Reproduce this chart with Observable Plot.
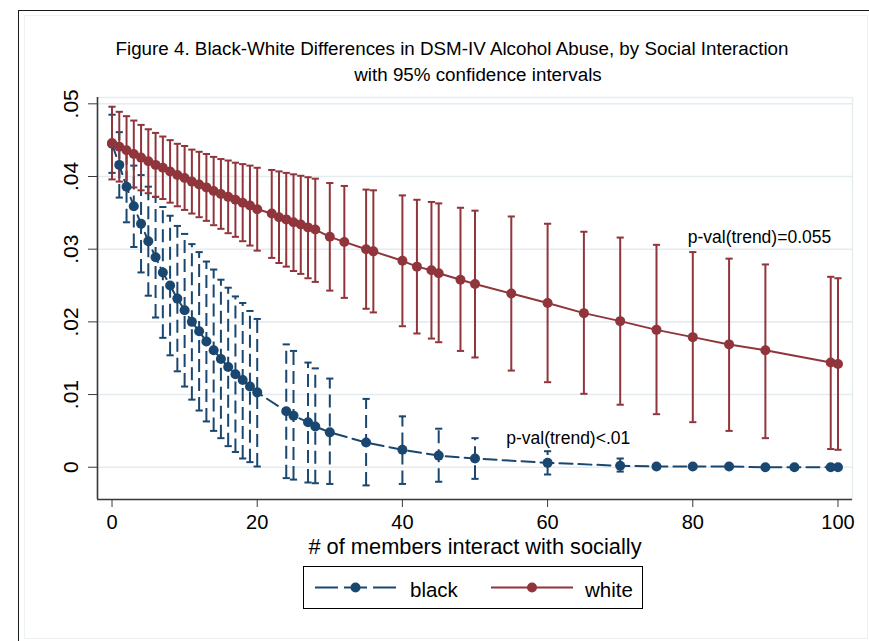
<!DOCTYPE html>
<html>
<head>
<meta charset="utf-8">
<script src="https://cdn.jsdelivr.net/npm/d3@7"></script>
<script src="https://cdn.jsdelivr.net/npm/@observablehq/plot@0.6"></script>
<style>
  body { margin: 0; background: #fff; font-family: "Liberation Sans", Arial, sans-serif; }
  #page { position: relative; width: 869px; height: 641px; overflow: hidden; background: #fff; }
  #outer { position: absolute; left: 18px; top: 10px; width: 860px; height: 640px;
           border-top: 1px solid #1a1a1a; border-left: 1px solid #1a1a1a; }
  #inner { position: absolute; left: 24px; top: 15px; width: 842px; height: 622px;
           border: 1px solid #edf2f5; }
  .title { position: absolute; white-space: nowrap; font-size: 18.8px; color: #000;
           transform: translateX(-50%); line-height: 22px; }
  #chart { position: absolute; left: 0; top: 60px; }
  #legend { position: absolute; left: 303px; top: 566px; }
</style>
</head>
<body>
<div id="page">
  <div id="outer"></div>
  <div id="inner"></div>
  <div id="t1" class="title"></div>
  <div id="t2" class="title"></div>
  <div id="chart"></div>
  <div id="legend"></div>
</div>
<script>
// Titles
const titleLine1 = "Figure 4. Black-White Differences in DSM-IV Alcohol Abuse, by Social Interaction";
const titleLine2 = "with 95% confidence intervals";
const xTitle = "# of members interact with socially";

// Axis ticks
const xTicks = [0, 20, 40, 60, 80, 100];
const yTicks = [0, 0.01, 0.02, 0.03, 0.04, 0.05];
const yTickLabels = ["0", ".01", ".02", ".03", ".04", ".05"];

// Black respondents: predicted prevalence and 95% CI
const blackX  = [0, 1, 2, 3, 4, 5, 6, 7, 8, 9, 10, 11, 12, 13, 14, 15, 16, 17, 18, 19, 20,
                 24, 25, 27, 28, 30, 35, 40, 45, 50, 60, 70, 75, 80, 85, 90, 94, 99, 100];
const blackY  = [0.0445, 0.0416, 0.0386, 0.0359, 0.0335, 0.0311, 0.0289, 0.0268, 0.0250, 0.0232, 0.0216,
                 0.0200, 0.0187, 0.0173, 0.0161, 0.0149, 0.0138, 0.0128, 0.0120, 0.0111, 0.0103,
                 0.0077, 0.0071, 0.0062, 0.0056, 0.0048, 0.0034, 0.0024, 0.0016, 0.0012, 0.0006,
                 0.0002, 0.0001, 0.0001, 0.0001, 0.0000, 0.0000, 0.0000, 0.0000];
const blackLo = [0.0405, 0.0371, 0.0337, 0.0303, 0.0268, 0.0236, 0.0206, 0.0178, 0.0154, 0.0132, 0.0111,
                 0.0093, 0.0078, 0.0063, 0.0050, 0.0040, 0.0029, 0.0021, 0.0012, 0.0007, 0.0001,
                 -0.0015, -0.0017, -0.0021, -0.0022, -0.0023, -0.0025, -0.0023, -0.0020, -0.0016, -0.0010,
                 -0.0006, -0.0002, 0.0000, 0.0000, 0.0000, 0.0000, 0.0000, 0.0000];
const blackHi = [0.0485, 0.0461, 0.0435, 0.0415, 0.0402, 0.0386, 0.0372, 0.0358, 0.0346, 0.0332, 0.0321,
                 0.0307, 0.0296, 0.0283, 0.0272, 0.0258, 0.0247, 0.0235, 0.0226, 0.0215, 0.0204,
                 0.0169, 0.0160, 0.0144, 0.0136, 0.0122, 0.0094, 0.0070, 0.0053, 0.0040, 0.0022,
                 0.0012, 0.0004, 0.0002, 0.0001, 0.0001, 0.0000, 0.0000, 0.0000];

// White respondents: predicted prevalence and 95% CI
const whiteX  = [0, 1, 2, 3, 4, 5, 6, 7, 8, 9, 10, 11, 12, 13, 14, 15, 16, 17, 18, 19, 20,
                 22, 23, 24, 25, 26, 27, 28, 30, 32, 35, 36, 40, 42, 44, 45, 48, 50, 55,
                 60, 65, 70, 75, 80, 85, 90, 99, 100];
const whiteY  = [0.0446, 0.0441, 0.0436, 0.0431, 0.0426, 0.0421, 0.0416, 0.0412, 0.0407, 0.0402, 0.0398,
                 0.0393, 0.0389, 0.0385, 0.0380, 0.0376, 0.0372, 0.0368, 0.0364, 0.0360, 0.0355,
                 0.0349, 0.0344, 0.0341, 0.0337, 0.0334, 0.0330, 0.0327, 0.0317, 0.0310, 0.0300, 0.0297,
                 0.0284, 0.0276, 0.0271, 0.0267, 0.0258, 0.0252, 0.0239,
                 0.0226, 0.0212, 0.0201, 0.0189, 0.0179, 0.0169, 0.0161, 0.0144, 0.0142];
const whiteLo = [0.0396, 0.0393, 0.0389, 0.0385, 0.0381, 0.0377, 0.0372, 0.0369, 0.0364, 0.0359, 0.0354,
                 0.0349, 0.0344, 0.0339, 0.0333, 0.0328, 0.0322, 0.0317, 0.0311, 0.0305, 0.0298,
                 0.0288, 0.0281, 0.0276, 0.0270, 0.0266, 0.0260, 0.0255, 0.0243, 0.0233, 0.0218, 0.0213,
                 0.0194, 0.0184, 0.0177, 0.0172, 0.0160, 0.0151, 0.0133,
                 0.0117, 0.0101, 0.0086, 0.0073, 0.0062, 0.0050, 0.0040, 0.0025, 0.0024];
const whiteHi = [0.0496, 0.0489, 0.0483, 0.0477, 0.0471, 0.0465, 0.0460, 0.0455, 0.0450, 0.0445, 0.0442,
                 0.0437, 0.0434, 0.0431, 0.0427, 0.0424, 0.0422, 0.0419, 0.0417, 0.0415, 0.0412,
                 0.0409, 0.0407, 0.0405, 0.0403, 0.0401, 0.0399, 0.0397, 0.0391, 0.0387, 0.0382, 0.0381,
                 0.0374, 0.0368, 0.0365, 0.0363, 0.0357, 0.0353, 0.0345,
                 0.0335, 0.0324, 0.0316, 0.0306, 0.0296, 0.0287, 0.0279, 0.0262, 0.0260];

// Trend test annotations
const noteX = [79.3, 54.3];
const noteY = [0.0316, 0.0039];
const noteText = ["p-val(trend)=0.055", "p-val(trend)<.01"];

// Legend entries
const seriesNames = ["black", "white"];

const navy = "#1a476f";
const maroon = "#90353b";
const dash = "13,6";

const black = blackX.map((x, i) => ({x, y: blackY[i], lo: blackLo[i], hi: blackHi[i]}));
const white = whiteX.map((x, i) => ({x, y: whiteY[i], lo: whiteLo[i], hi: whiteHi[i]}));
const notes = noteX.map((x, i) => ({x, y: noteY[i], text: noteText[i]}));

// Horizontal cap used at both ends of each confidence interval
const capSymbol = {
  draw(context, size) {
    const r = Math.sqrt(size / Math.PI);
    context.moveTo(-r, 0);
    context.lineTo(r, 0);
  }
};

const xDomain = [-2, 102];
const yDomain = [-0.00444, 0.05087];

function ciMarks(data, color, dashed) {
  const extra = dashed ? {strokeDasharray: dash} : {};
  return [
    Plot.ruleX(data, {x: "x", y1: "lo", y2: "hi", stroke: color, strokeWidth: 2, ...extra}),
    Plot.dot(data, {x: "x", y: "lo", symbol: capSymbol, r: 3.6, stroke: color, strokeWidth: 2, fill: "none"}),
    Plot.dot(data, {x: "x", y: "hi", symbol: capSymbol, r: 3.6, stroke: color, strokeWidth: 2, fill: "none"})
  ];
}

const chart = Plot.plot({
  width: 869,
  height: 505,
  marginTop: 37,
  marginLeft: 97,
  marginRight: 17,
  marginBottom: 66,
  x: {domain: xDomain},
  y: {domain: yDomain},
  style: {fontFamily: "'Liberation Sans', Arial, sans-serif", background: "transparent", overflow: "visible", color: "#000"},
  marks: [
    Plot.frame({stroke: "#e6edf1", strokeWidth: 1.5}),
    Plot.gridY(yTicks, {stroke: "#e4ecf0", strokeOpacity: 1, strokeWidth: 1.6}),
    Plot.ruleX([xDomain[0]], {stroke: "#3a3a3a", strokeWidth: 1.6}),
    Plot.ruleY([yDomain[0]], {stroke: "#3a3a3a", strokeWidth: 1.6}),
    Plot.axisX({ticks: xTicks, tickSize: 8, tickPadding: 7, fontSize: 20, label: null, stroke: "#3a3a3a"}),
    Plot.axisY({ticks: yTicks, tickSize: 9, tickFormat: () => "", label: null, stroke: "#3a3a3a"}),
    Plot.text(yTicks, {y: d => d, frameAnchor: "left", dx: -26, rotate: -90, fontSize: 21,
                       text: (d, i) => yTickLabels[i], textAnchor: "middle", lineAnchor: "middle"}),
    Plot.text([xTitle], {frameAnchor: "bottom", dy: 48, fontSize: 21.8, lineAnchor: "middle", text: d => d}),
    // confidence intervals
    ...ciMarks(black, navy, true),
    ...ciMarks(white, maroon, false),
    // connected predictions
    Plot.line(black, {x: "x", y: "y", stroke: navy, strokeWidth: 2, strokeDasharray: dash}),
    Plot.dot(black, {x: "x", y: "y", r: 5, fill: navy, stroke: "none"}),
    Plot.line(white, {x: "x", y: "y", stroke: maroon, strokeWidth: 2}),
    Plot.dot(white, {x: "x", y: "y", r: 5, fill: maroon, stroke: "none"}),
    Plot.text(notes, {x: "x", y: "y", text: "text", textAnchor: "start", fontSize: 17.5})
  ]
});
document.getElementById("chart").appendChild(chart);

// Title lines
const t1 = document.getElementById("t1");
t1.textContent = titleLine1;
t1.style.left = "452px"; t1.style.top = "38px";
const t2 = document.getElementById("t2");
t2.textContent = titleLine2;
t2.style.left = "478px"; t2.style.top = "64px";

// Legend box
const lw = 340, lh = 43;
const legend = d3.select("#legend").append("svg")
  .attr("width", lw).attr("height", lh)
  .style("font-family", "'Liberation Sans', Arial, sans-serif");
legend.append("rect").attr("x", 0.5).attr("y", 0.5).attr("width", lw - 1).attr("height", lh - 1)
  .attr("fill", "#fff").attr("stroke", "#000").attr("stroke-width", 1);
const keys = [
  {name: seriesNames[0], color: navy, x0: 12, x1: 93, dashed: true, tx: 107},
  {name: seriesNames[1], color: maroon, x0: 188, x1: 270, dashed: false, tx: 282}
];
for (const k of keys) {
  legend.append("line").attr("x1", k.x0).attr("x2", k.x1).attr("y1", lh / 2).attr("y2", lh / 2)
    .attr("stroke", k.color).attr("stroke-width", 2)
    .attr("stroke-dasharray", k.dashed ? "23,6" : null);
  legend.append("circle").attr("cx", (k.x0 + k.x1) / 2).attr("cy", lh / 2).attr("r", 5).attr("fill", k.color);
  legend.append("text").attr("x", k.tx).attr("y", lh / 2 + 2).attr("dy", "0.35em")
    .attr("font-size", 20.5).attr("fill", "#000").text(k.name);
}
</script>
</body>
</html>
